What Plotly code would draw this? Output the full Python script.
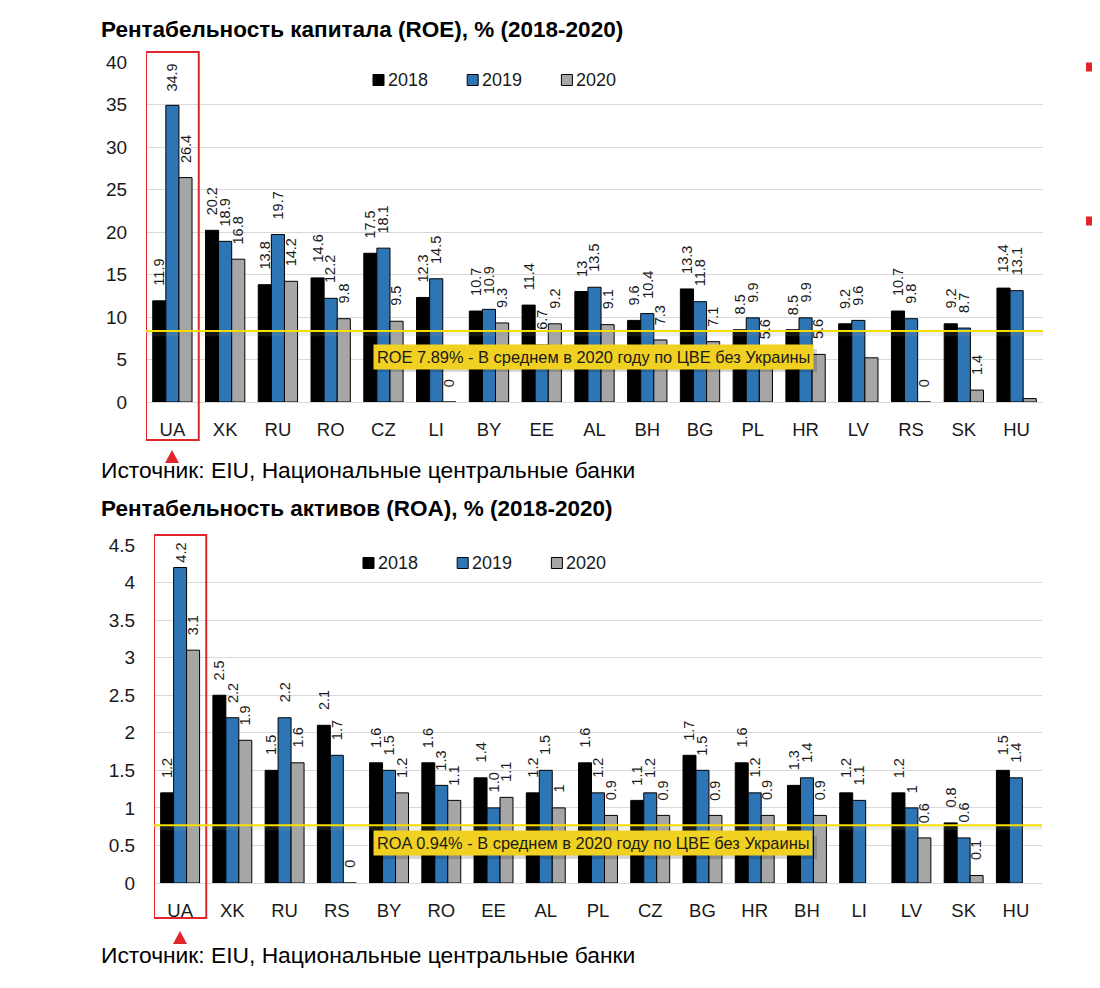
import plotly.graph_objects as go

_FONT = "Arial, Liberation Sans, sans-serif"
_INK = "#1a1a1a"
_RED = "#e0262b"
_GRID = "#d9d9d9"
_YELLOW = "#f7dc00"
_BOX = "#f0d020"
_COLORS = {"2018": "#000000", "2019": "#2e75b6", "2020": "#a6a6a6"}
_LABEL_SIZE = 14.5
_LABEL_GAP = 14  # px between a bar top and its value label

# the page keeps its 8px body margin, so the figure is a bit smaller than the window
OFF = 8
W, H = 1092, 972

# --------------------------------------------------------------------------- #
#  Data                                                                        #
# --------------------------------------------------------------------------- #

YEARS = ["2018", "2019", "2020"]

ROE_COUNTRIES = ["UA", "XK", "RU", "RO", "CZ", "LI", "BY", "EE", "AL",
                 "BH", "BG", "PL", "HR", "LV", "RS", "SK", "HU"]
ROE_2018 = [11.9, 20.2, 13.8, 14.6, 17.5, 12.3, 10.7, 11.4, 13.0,
            9.6, 13.3, 8.5, 8.5, 9.2, 10.7, 9.2, 13.4]
ROE_2019 = [34.9, 18.9, 19.7, 12.2, 18.1, 14.5, 10.9, 6.7, 13.5,
            10.4, 11.8, 9.9, 9.9, 9.6, 9.8, 8.7, 13.1]
ROE_2020 = [26.4, 16.8, 14.2, 9.8, 9.5, 0, 9.3, 9.2, 9.1,
            7.3, 7.1, 5.6, 5.6, 5.2, 0, 1.4, 0.4]
ROE_2018_TXT = ["11.9", "20.2", "13.8", "14.6", "17.5", "12.3", "10.7", "11.4", "13",
                "9.6", "13.3", "8.5", "8.5", "9.2", "10.7", "9.2", "13.4"]
ROE_2019_TXT = ["34.9", "18.9", "19.7", "12.2", "18.1", "14.5", "10.9", "6.7", "13.5",
                "10.4", "11.8", "9.9", "9.9", "9.6", "9.8", "8.7", "13.1"]
ROE_2020_TXT = ["26.4", "16.8", "14.2", "9.8", "9.5", "0", "9.3", "9.2", "9.1",
                "7.3", "7.1", "5.6", "5.6", "", "0", "1.4", ""]
ROE_AVG_LINE = 8.35
ROE_NOTE = "ROE 7.89% - В среднем в 2020 году по ЦВЕ без Украины"

ROA_COUNTRIES = ["UA", "XK", "RU", "RS", "BY", "RO", "EE", "AL", "PL",
                 "CZ", "BG", "HR", "BH", "LI", "LV", "SK", "HU"]
ROA_2018 = [1.2, 2.5, 1.5, 2.1, 1.6, 1.6, 1.4, 1.2, 1.6,
            1.1, 1.7, 1.6, 1.3, 1.2, 1.2, 0.8, 1.5]
ROA_2019 = [4.2, 2.2, 2.2, 1.7, 1.5, 1.3, 1.0, 1.5, 1.2,
            1.2, 1.5, 1.2, 1.4, 1.1, 1.0, 0.6, 1.4]
ROA_2020 = [3.1, 1.9, 1.6, 0, 1.2, 1.1, 1.14, 1.0, 0.9,
            0.9, 0.9, 0.9, 0.9, None, 0.6, 0.1, None]
ROA_2018_TXT = ["1.2", "2.5", "1.5", "2.1", "1.6", "1.6", "1.4", "1.2", "1.6",
                "1.1", "1.7", "1.6", "1.3", "1.2", "1.2", "0.8", "1.5"]
ROA_2019_TXT = ["4.2", "2.2", "2.2", "1.7", "1.5", "1.3", "1.0", "1.5", "1.2",
                "1.2", "1.5", "1.2", "1.4", "1.1", "1", "0.6", "1.4"]
ROA_2020_TXT = ["3.1", "1.9", "1.6", "0", "1.2", "1.1", "1.1", "1", "0.9",
                "0.9", "0.9", "0.9", "0.9", "", "0.6", "0.1", ""]
ROA_AVG_LINE = 0.77
ROA_NOTE = "ROA 0.94% - В среднем в 2020 году по ЦВЕ без Украины"

TITLE_ROE = "<b>Рентабельность капитала (ROE), % (2018-2020)</b>"
TITLE_ROA = "<b>Рентабельность активов (ROA), % (2018-2020)</b>"
SOURCE = "Источник: EIU, Национальные центральные банки"

# chart boxes in screen pixels: left, right, bottom (y=0), top
ROE_BOX = (146, 1043, 402, 62)
ROA_BOX = (154, 1042, 883, 545)
BARGAP = 0.255


# screen pixel -> paper fraction
def px_x(p):
    return (p - OFF) / W


def px_y(p):
    return 1 - (p - OFF) / H


def _label_len(txt):
    digits = sum(ch.isdigit() for ch in txt)
    return _LABEL_SIZE * (0.556 * digits + 0.278 * (len(txt) - digits)) + 2


def _chart(fig, cats, series, xa, ya, box, ymax):
    left, right, bottom, top = box
    slot = (right - left) / len(cats)
    bar_w = slot * (1 - BARGAP) / len(series)
    ppu = (bottom - top) / ymax
    anns = []
    for i, (year, vals, txt) in enumerate(series):
        fig.add_trace(go.Bar(
            x=cats, y=vals, name=year, showlegend=False,
            xaxis=xa, yaxis=ya,
            marker=dict(color=_COLORS[year], line=dict(color="#000000", width=1)),
            hovertemplate="%{x} " + year + ": %{y}<extra></extra>",
        ))
        shift_x = (i - (len(series) - 1) / 2) * bar_w
        for cat, v, t in zip(cats, vals, txt):
            if v is None or not t:
                continue
            room = (ymax - v) * ppu - _label_len(t)
            anns.append(dict(
                text=t, xref=xa, yref=ya, x=cat, y=v, xshift=shift_x,
                yshift=max(4, min(_LABEL_GAP, room)),
                xanchor="center", yanchor="bottom", textangle=-90,
                showarrow=False, borderpad=0,
                font=dict(family=_FONT, size=_LABEL_SIZE, color=_INK),
            ))
    return anns


def _legend(x0, yc, step):
    """Excel-style legend: small square glued to the year."""
    shp, ann = [], []
    for i, year in enumerate(YEARS):
        sx = x0 + i * step
        shp.append(dict(type="rect", xref="paper", yref="paper",
                        x0=px_x(sx), x1=px_x(sx + 11), y0=px_y(yc + 5.5), y1=px_y(yc - 5.5),
                        fillcolor=_COLORS[year], line=dict(color="#000000", width=1)))
        ann.append(dict(text=year, xref="paper", yref="paper", x=px_x(sx + 13), y=px_y(yc),
                        xanchor="left", yanchor="middle", showarrow=False,
                        font=dict(family=_FONT, size=18, color=_INK)))
    return shp, ann


fig = go.Figure()
annotations = []
annotations += _chart(fig, ROE_COUNTRIES,
                      list(zip(YEARS, [ROE_2018, ROE_2019, ROE_2020],
                               [ROE_2018_TXT, ROE_2019_TXT, ROE_2020_TXT])),
                      "x", "y", ROE_BOX, 40)
annotations += _chart(fig, ROA_COUNTRIES,
                      list(zip(YEARS, [ROA_2018, ROA_2019, ROA_2020],
                               [ROA_2018_TXT, ROA_2019_TXT, ROA_2020_TXT])),
                      "x2", "y2", ROA_BOX, 4.5)


def _xaxis(box, anchor):
    return dict(
        domain=[px_x(box[0]), px_x(box[1])], anchor=anchor, type="category",
        range=[-0.5, 16.5],
        showgrid=False, showline=False, zeroline=False, automargin=False,
        ticks="outside", ticklen=11, tickcolor="rgba(0,0,0,0)",
        tickfont=dict(family=_FONT, size=18.5, color=_INK), fixedrange=True,
    )


def _yaxis(box, anchor, ymax, dtick):
    return dict(
        domain=[px_y(box[2]), px_y(box[3])], anchor=anchor, range=[0, ymax], dtick=dtick,
        showgrid=True, gridcolor=_GRID, gridwidth=1, automargin=False,
        zeroline=True, zerolinecolor=_GRID, zerolinewidth=1, showline=False,
        ticks="outside", ticklen=14, tickcolor="rgba(0,0,0,0)",
        tickfont=dict(family=_FONT, size=19, color=_INK), fixedrange=True,
    )


shapes = []

for x0, yc in ((373, 80), (363, 563)):
    s, a = _legend(x0, yc, 94.2)
    shapes += s
    annotations += a

# red frame round UA and the red pointer under it
for xa, ya_top, ya_bot, cx, tri_y in (("x", 52, 440, 172, 450), ("x2", 535, 918, 180, 931)):
    shapes.append(dict(type="rect", xref=xa, yref="paper",
                       x0=-0.5, x1=0.5, y0=px_y(ya_bot), y1=px_y(ya_top),
                       line=dict(color=_RED, width=2), fillcolor="rgba(0,0,0,0)"))
    shapes.append(dict(type="path", xref="paper", yref="paper",
                       path=(f"M{px_x(cx - 7)},{px_y(tri_y + 13)} L{px_x(cx + 7)},{px_y(tri_y + 13)} "
                             f"L{px_x(cx)},{px_y(tri_y)} Z"),
                       fillcolor=_RED, line=dict(width=0)))

# yellow average line with a soft shadow
for xd, yref, yv, shadow in (("x domain", "y", ROE_AVG_LINE, 0.33),
                             ("x2 domain", "y2", ROA_AVG_LINE, 0.035)):
    shapes.append(dict(type="line", xref=xd, yref=yref, x0=0, x1=1,
                       y0=yv - shadow, y1=yv - shadow,
                       line=dict(color="rgba(150,150,150,0.16)", width=5), layer="above"))
    shapes.append(dict(type="line", xref=xd, yref=yref, x0=0, x1=1, y0=yv, y1=yv,
                       line=dict(color=_YELLOW, width=2), layer="above"))

# shadows of the yellow note boxes
for top in (345, 832):
    shapes.append(dict(type="rect", xref="paper", yref="paper",
                       x0=px_x(377), x1=px_x(817), y0=px_y(top + 27), y1=px_y(top + 4),
                       fillcolor="rgba(0,0,0,0.16)", line=dict(width=0), layer="above"))

# small red bullets cut at the right edge
for yc in (67, 221):
    shapes.append(dict(type="rect", xref="paper", yref="paper",
                       x0=px_x(1086), x1=1.0, y0=px_y(yc + 4.5), y1=px_y(yc - 4.5),
                       fillcolor=_RED, line=dict(width=0), layer="above"))

for title, ty, src_y in ((TITLE_ROE, 30, 470), (TITLE_ROA, 508, 955)):
    annotations.append(dict(text=title, xref="paper", yref="paper", x=px_x(99), y=px_y(ty),
                            xanchor="left", yanchor="middle", showarrow=False,
                            font=dict(family=_FONT, size=22.5, color="#000000")))
    annotations.append(dict(text=SOURCE, xref="paper", yref="paper", x=px_x(99), y=px_y(src_y),
                            xanchor="left", yanchor="middle", showarrow=False,
                            font=dict(family=_FONT, size=22.8, color="#000000")))

for yref, note, yc in (("y", ROE_NOTE, 5.3), ("y2", ROA_NOTE, 0.526)):
    annotations.append(dict(text=note, xref="paper", yref=yref, x=px_x(373), y=yc,
                            xanchor="left", yanchor="middle", showarrow=False,
                            bgcolor=_BOX, borderpad=3,
                            font=dict(family=_FONT, size=16.4, color=_INK)))

fig.update_layout(
    width=W, height=H,
    margin=dict(l=0, r=0, t=0, b=0, autoexpand=False),
    paper_bgcolor="#ffffff", plot_bgcolor="#ffffff",
    barmode="group", bargap=BARGAP, bargroupgap=0,
    font=dict(family=_FONT, color=_INK),
    xaxis=_xaxis(ROE_BOX, "y"),
    yaxis=_yaxis(ROE_BOX, "x", 40, 5),
    xaxis2=_xaxis(ROA_BOX, "y2"),
    yaxis2=_yaxis(ROA_BOX, "x2", 4.5, 0.5),
    shapes=shapes,
    annotations=annotations,
    showlegend=False,
)

fig.write_html("out.html")
